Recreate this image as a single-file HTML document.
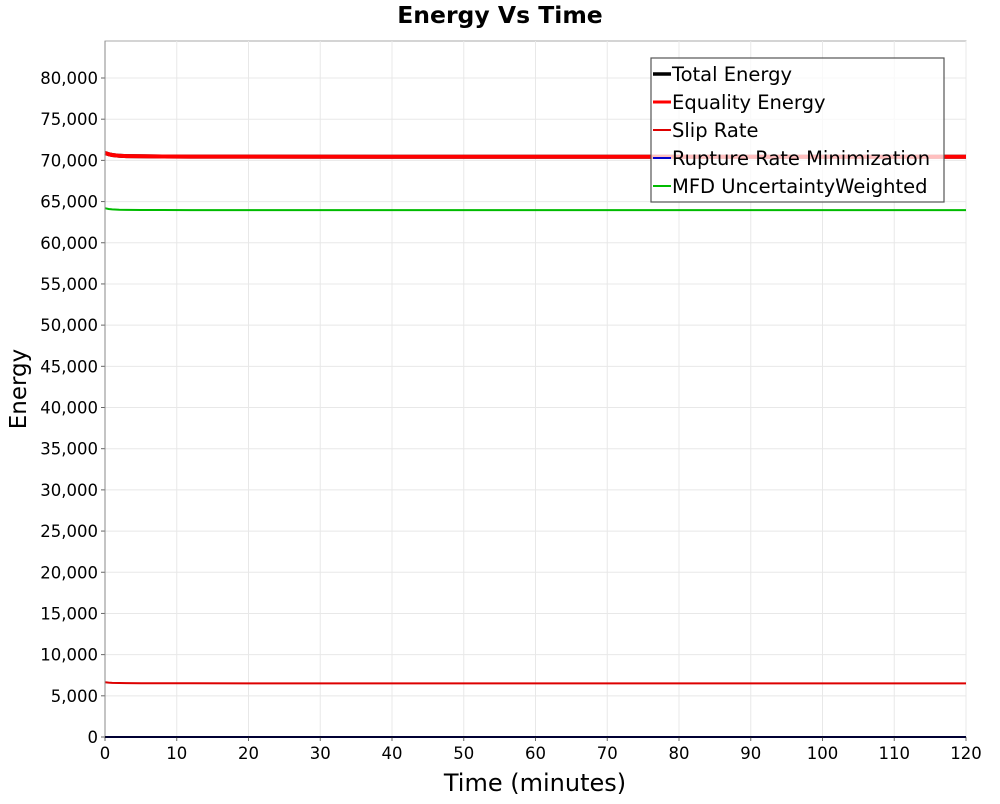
<!DOCTYPE html>
<html><head><meta charset="utf-8">
<style>
body{margin:0;background:#fff;font-family:"DejaVu Sans","Liberation Sans",sans-serif;}
svg text{font-family:"DejaVu Sans","Liberation Sans",sans-serif;}
</style></head>
<body>
<svg id="chart" width="1000" height="800" xmlns="http://www.w3.org/2000/svg">
<rect width="1000" height="800" fill="#fff"/>
<text x="500" y="23" text-anchor="middle" font-size="23.5" font-weight="bold">Energy Vs Time</text>
<rect x="105" y="41" width="861" height="696" fill="#fff" stroke="#aaa"/>
<g id="grid"></g>
<g id="series"></g>
<g id="axes"></g>
<text x="535" y="791" text-anchor="middle" font-size="24">Time (minutes)</text>
<text transform="translate(26,389) rotate(-90)" text-anchor="middle" font-size="23">Energy</text>
<g>
<rect x="651" y="58" width="293" height="144" fill="#fff" fill-opacity="0.75" stroke="#555" stroke-width="1.2"/>
<g id="legend-items"></g>
</g>
</svg>
<script>
const times=[0,0.5,1,2,3,5,8,12,20,40,60,80,100,120];
const totalEnergy=[70900,70750,70650,70560,70520,70490,70470,70460,70455,70450,70450,70450,70448,70448];
const equalityEnergy=[70900,70750,70650,70560,70520,70490,70470,70460,70455,70450,70450,70450,70448,70448];
const slipRate=[6650,6600,6570,6550,6540,6530,6520,6515,6510,6510,6510,6510,6510,6510];
const ruptureRate=[0,0,0,0,0,0,0,0,0,0,0,0,0,0];
const mfd=[64200,64100,64050,64000,63990,63980,63970,63965,63960,63960,63960,63960,63960,63960];
const xTicks=[0,10,20,30,40,50,60,70,80,90,100,110,120];
const yTicks=[0,5000,10000,15000,20000,25000,30000,35000,40000,45000,50000,55000,60000,65000,70000,75000,80000];
const NS="http://www.w3.org/2000/svg";
const X0=105,X1=966,Y0=737,Y80=78;
function xs(t){return X0+(t-0)/(120-0)*(X1-X0);}
function ys(v){return Y0-(v/80000)*(Y0-Y80);}
function mk(tag,attrs,parent){const e=document.createElementNS(NS,tag);for(const k in attrs)e.setAttribute(k,attrs[k]);parent.appendChild(e);return e;}
const grid=document.getElementById('grid'),axes=document.getElementById('axes');
xTicks.forEach(t=>{
 const g=mk('line',{x1:xs(t),x2:xs(t),y1:41,y2:737,stroke:'#e8e8e8'},grid);
 
 
 const tk=mk('line',{x1:xs(t),x2:xs(t),y1:737,y2:741,stroke:'#666'},axes);
 
 
 const tx=mk('text',{x:xs(t),y:759,'text-anchor':'middle','font-size':16.5},axes);
 tx.textContent=t;
 
 
});
yTicks.forEach(v=>{
 const g=mk('line',{x1:105,x2:966,y1:ys(v),y2:ys(v),stroke:'#e8e8e8'},grid);
 
 
 const tk=mk('line',{x1:101,x2:105,y1:ys(v),y2:ys(v),stroke:'#666'},axes);
 
 
 const tx=mk('text',{x:98,y:ys(v)+6,'text-anchor':'end','font-size':16.5},axes);
 tx.textContent=v.toLocaleString('en-US');
 
 
});
const ax=mk('line',{x1:105,x2:105,y1:41,y2:737,stroke:'#888'},axes);


const series=[
 {name:'Total Energy',vals:totalEnergy,color:'#000',w:4,lw:3.5},
 {name:'Equality Energy',vals:equalityEnergy,color:'#f00',w:4,lw:3},
 {name:'Slip Rate',vals:slipRate,color:'#d00',w:2,lw:2},
 {name:'Rupture Rate Minimization',vals:ruptureRate,color:'#00c',w:2,lw:2},
 {name:'MFD UncertaintyWeighted',vals:mfd,color:'#0b0',w:2,lw:2}
];
const sg=document.getElementById('series'),lg=document.getElementById('legend-items');
series.forEach((s,i)=>{
 const d=times.map((t,j)=>(j?'L':'M')+xs(t).toFixed(1)+','+ys(s.vals[j]).toFixed(1)).join(' ');
 const p=mk('path',{d:d,fill:'none',stroke:s.color,'stroke-width':s.w},sg);
 
 
 const y=74+i*28;
 const l=mk('line',{x1:653,x2:671,y1:y,y2:y,stroke:s.color,'stroke-width':s.lw},lg);
 
 
 const t=mk('text',{x:672,y:y+7,'font-size':19.5},lg);
 t.textContent=s.name;
 
 
});
const bl=mk('line',{x1:105,x2:966,y1:737,y2:737,stroke:'#000','stroke-width':1.5},axes);


</script>
</body></html>
